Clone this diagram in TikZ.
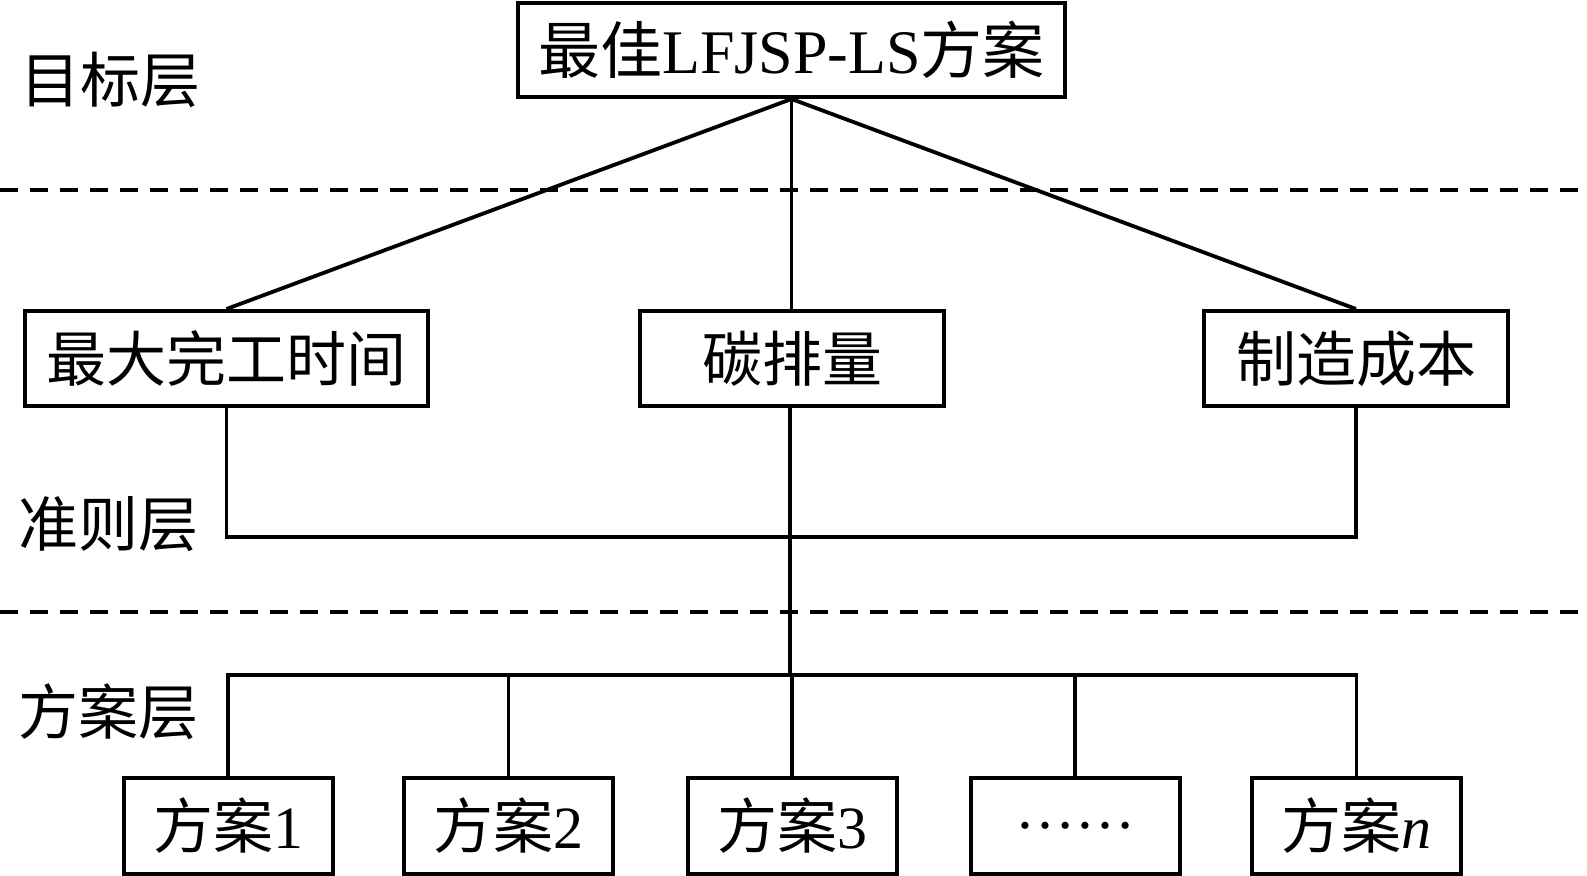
\documentclass[tikz,border=0pt]{standalone}
\usepackage{fontspec}
\setmainfont{Liberation Serif}
\newfontfamily\cjk{Noto Sans CJK SC}
\usetikzlibrary{positioning}
\tikzset{box/.style={draw=penColor,line width=2pt,inner sep=0pt,
    font=\fontsize{30}{30}\selectfont},
  wire/.style={draw=penColor,line width=1.9pt},
  layer/.style={draw=penColor,line width=2.2pt,dash pattern=on 9pt off 6pt},
  lbl/.style={anchor=west,inner sep=0pt,font=\fontsize{30}{30}\selectfont\cjk}}
\colorlet{penColor}{black}

\begin{document}
\begin{tikzpicture}[x=0.5pt,y=-0.5pt]
            \useasboundingbox (0,0) rectangle (1587,876);
            % layers
            \draw[layer] (0,190) -- (1587,190);
            \draw[layer] (0,612) -- (1587,612);
            \node[lbl] (lgoal) at (20,80) {目标层};
            \node[lbl] (lcrit) at (18,524) {准则层};
            \node[lbl] (lalt) at (18,712) {方案层};
            % goal and criteria
            \node[box,minimum width=273.5pt,minimum height=47pt,font=\fontsize{31}{31}\selectfont] (goal) at (791.5,50)
                  {{\cjk 最佳}LFJSP-LS{\cjk 方案}};
            \node[box,minimum width=201.5pt,minimum height=47.5pt] (time) at (226.5,358.5) {\cjk 最大完工时间};
            \node[box,minimum width=152pt,minimum height=47.5pt] (carbon) at (792,358.5) {\cjk 碳排量};
            \node[box,minimum width=152pt,minimum height=47.5pt] (cost) at (1356,358.5) {\cjk 制造成本};
            % alternatives
            \node[box,minimum width=104.5pt,minimum height=48pt] (alt1) at (228,826) {{\cjk 方案}1};
            \node[box,minimum width=104.5pt,minimum height=48pt] (alt2) at (508.5,826) {{\cjk 方案}2};
            \node[box,minimum width=104.5pt,minimum height=48pt] (alt3) at (792,826) {{\cjk 方案}3};
            \node[box,minimum width=104.5pt,minimum height=48pt] (alt4) at (1075,826) {……};
            \node[box,minimum width=104.5pt,minimum height=48pt] (alt5) at (1356.5,826) {{\cjk 方案}\textit{n}};
            \coordinate (critbus) at (790,537);
            \coordinate (altbus) at (790,675);
            % connectors
            \draw[wire] (goal.south) -- (time.north);
            \draw[wire] (goal.south) -- (carbon.north -| goal.south);
            \draw[wire] (goal.south) -- (cost.north);
            \draw[wire] (time.south) |- (critbus) -| (cost.south);
            \draw[wire] (carbon.south -| critbus) -- (altbus);
            \draw[wire] (alt1.north) |- (altbus) -| (alt5.north);
            \foreach \k in {2,3,4}
                  \draw[wire] (alt\k.north) -- (alt\k.north |- altbus);
      \end{tikzpicture}
\end{document}
